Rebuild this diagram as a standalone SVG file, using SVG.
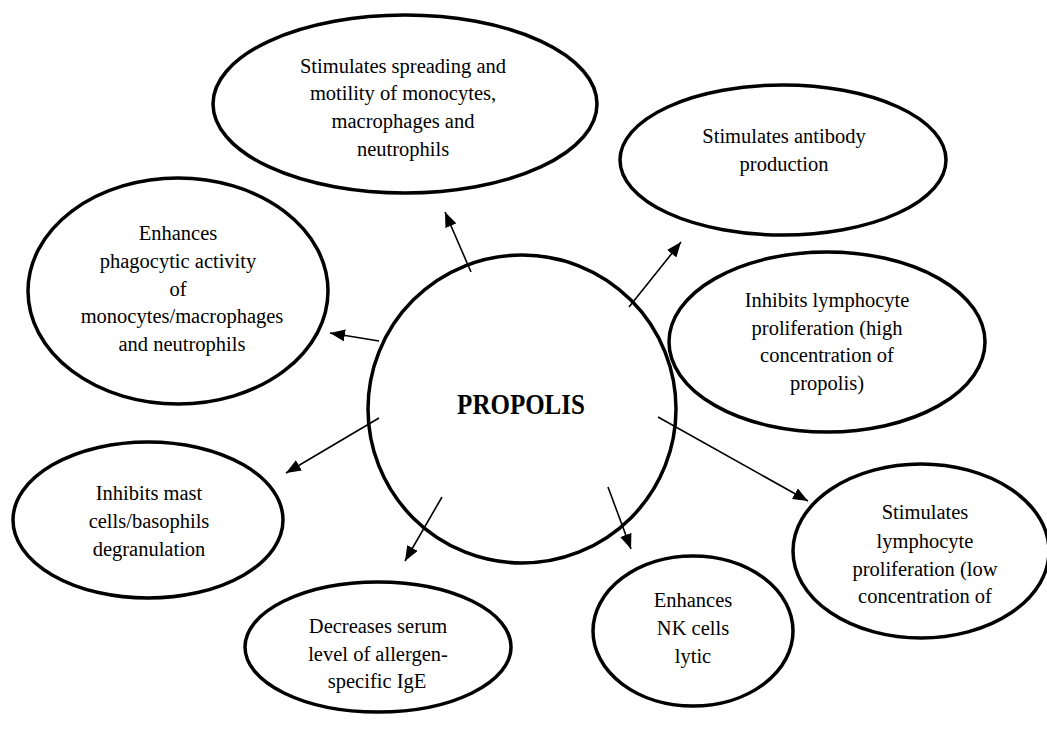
<svg xmlns="http://www.w3.org/2000/svg" width="1047" height="731" viewBox="0 0 1047 731">
<defs>
<style>
.node ellipse, .node circle { fill: #ffffff; stroke: #000000; stroke-width: 3.5; }
.node text { font-family: "Liberation Serif", "Times New Roman", "DejaVu Serif", serif; font-size: 20.5px; fill: #000000; text-anchor: middle; }
.node text.title { font-weight: bold; font-size: 25px; }
.edges line { stroke: #000000; stroke-width: 1.6; marker-end: url(#arrow); }
</style>
<marker id="arrow" markerUnits="userSpaceOnUse" markerWidth="16" markerHeight="12" refX="15" refY="6" orient="auto">
<path d="M0,0 L15,6 L0,12 Z" fill="#000000"/>
</marker>
</defs>
<rect width="1047" height="731" fill="#ffffff"/>
<g id="n-spreading" class="node">
<ellipse cx="405" cy="104" rx="192" ry="89"/>
<text x="403" y="73">Stimulates spreading and</text>
<text x="403" y="100">motility of monocytes,</text>
<text x="403" y="128">macrophages and</text>
<text x="403" y="156">neutrophils</text>
</g>
<g id="n-antibody" class="node">
<ellipse cx="783" cy="160" rx="163" ry="75"/>
<text x="784" y="143">Stimulates antibody</text>
<text x="784" y="171">production</text>
</g>
<g id="n-inhibits-lymph" class="node">
<ellipse cx="827" cy="342" rx="158" ry="90"/>
<text x="827" y="307">Inhibits lymphocyte</text>
<text x="827" y="335">proliferation (high</text>
<text x="827" y="362">concentration of</text>
<text x="827" y="390">propolis)</text>
</g>
<g id="n-phagocytic" class="node">
<ellipse cx="178" cy="291" rx="150" ry="113"/>
<text x="178" y="240">Enhances</text>
<text x="178" y="268">phagocytic activity</text>
<text x="178" y="296">of</text>
<text x="182" y="323">monocytes/macrophages</text>
<text x="182" y="351">and neutrophils</text>
</g>
<g id="n-mast" class="node">
<ellipse cx="148" cy="520" rx="135" ry="78"/>
<text x="149" y="500">Inhibits mast</text>
<text x="149" y="528">cells/basophils</text>
<text x="149" y="556">degranulation</text>
</g>
<g id="n-propolis" class="node">
<circle cx="522" cy="409" r="154"/>
<text class="title" transform="translate(521,414) scale(1,1.15)" x="0" y="0">PROPOLIS</text>
</g>
<g id="n-ige" class="node">
<ellipse cx="378" cy="647" rx="133" ry="65"/>
<text x="378" y="633">Decreases serum</text>
<text x="378" y="661">level of allergen-</text>
<text x="377" y="688">specific IgE</text>
</g>
<g id="n-nk" class="node">
<ellipse cx="693" cy="631" rx="100" ry="75"/>
<text x="693" y="607">Enhances</text>
<text x="693" y="635">NK cells</text>
<text x="693" y="663">lytic</text>
</g>
<g id="n-stim-lymph" class="node">
<ellipse cx="921" cy="551" rx="128" ry="87"/>
<text x="925" y="519">Stimulates</text>
<text x="925" y="548">lymphocyte</text>
<text x="925" y="576">proliferation (low</text>
<text x="925" y="603">concentration of</text>
</g>
<g id="edges" class="edges">
<line x1="471" y1="272" x2="445" y2="212"/>
<line x1="629" y1="307" x2="681" y2="242"/>
<line x1="379" y1="341" x2="330" y2="333"/>
<line x1="379" y1="418" x2="286" y2="473"/>
<line x1="442" y1="497" x2="405" y2="561"/>
<line x1="608" y1="487" x2="631" y2="549"/>
<line x1="658" y1="417" x2="808" y2="501"/>
</g>
</svg>
